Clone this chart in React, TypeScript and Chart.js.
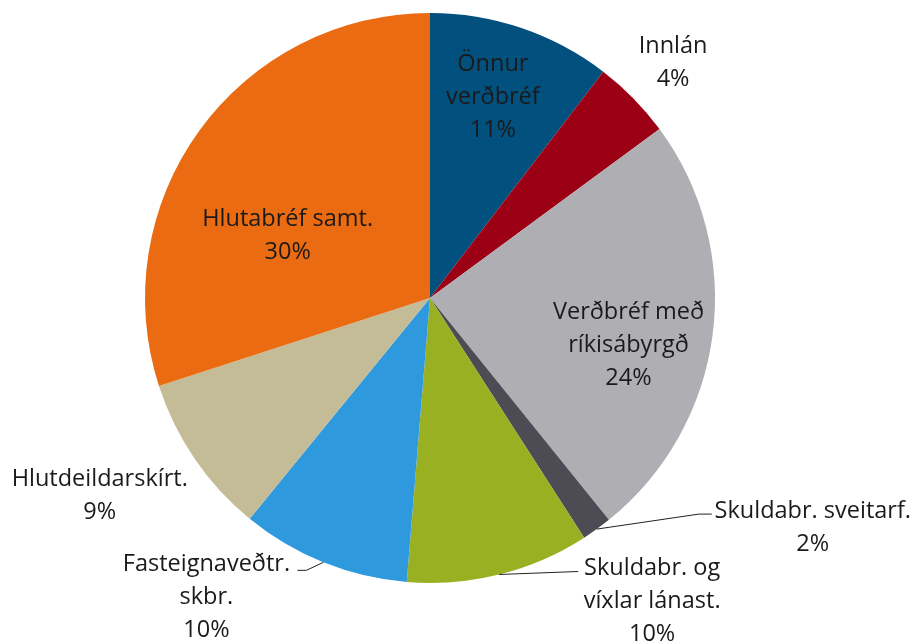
import React, { useEffect, useRef } from "react";
import { Chart, registerables } from "chart.js";

Chart.register(...registerables);

const categories = [
  "Önnur verðbréf",
  "Innlán",
  "Verðbréf með ríkisábyrgð",
  "Skuldabr. sveitarf.",
  "Skuldabr. og víxlar lánast.",
  "Fasteignaveðtr. skbr.",
  "Hlutdeildarskírt.",
  "Hlutabréf samt.",
];
const values = [10.4, 4.5, 24.3, 1.7, 10.4, 9.6, 9.1, 30.0];
const percentLabels = ["11%", "4%", "24%", "2%", "10%", "10%", "9%", "30%"];
const labelLines = [
  ["Önnur", "verðbréf"],
  ["Innlán"],
  ["Verðbréf með", "ríkisábyrgð"],
  ["Skuldabr. sveitarf."],
  ["Skuldabr. og", "víxlar lánast."],
  ["Fasteignaveðtr.", "skbr."],
  ["Hlutdeildarskírt."],
  ["Hlutabréf samt."],
];
const colors = [
  "#02507D",
  "#9C0014",
  "#AFAEB3",
  "#4D4C55",
  "#9AB023",
  "#2E99DC",
  "#C4BC97",
  "#EB6B12",
];

type Placement = { f: number; dx: number; dy: number; leader?: number[][] };
const placements: Placement[] = [
  { f: 0.72, dx: -3, dy: -6 },
  { f: 1.19, dx: 1, dy: 2 },
  { f: 0.72, dx: -5, dy: 21 },
  { f: 1, dx: 216, dy: -1, leader: [[102, -15], [115, -15]] },
  { f: 1, dx: 153, dy: 27, leader: [[79, -3]] },
  { f: 1, dx: -117, dy: 35, leader: [[-17, 8], [-26, 8]] },
  { f: 1.2, dx: -48, dy: 5 },
  { f: 0.6, dx: -4, dy: 38 },
];

const FONT = "23.5px 'Open Sans', sans-serif";
const LINE_H = 33;

const labelPlugin = {
  id: "pieLabels",
  afterDraw(chart: any) {
    const ctx = chart.ctx;
    const meta = chart.getDatasetMeta(0);
    ctx.save();
    ctx.font = FONT;
    ctx.fillStyle = "#1a1a1a";
    ctx.textAlign = "center";
    ctx.textBaseline = "middle";
    meta.data.forEach((arc: any, i: number) => {
      const p = placements[i];
      const mid = (arc.startAngle + arc.endAngle) / 2;
      const r = arc.outerRadius * p.f;
      const ax = arc.x + Math.cos(mid) * r;
      const ay = arc.y + Math.sin(mid) * r;
      if (p.leader) {
        ctx.beginPath();
        ctx.strokeStyle = "#222";
        ctx.lineWidth = 1;
        ctx.moveTo(ax, ay);
        p.leader.forEach((pt) => ctx.lineTo(ax + pt[0], ay + pt[1]));
        ctx.stroke();
      }
      const lines = [...labelLines[i], percentLabels[i]];
      const cx = ax + p.dx;
      const cy = ay + p.dy;
      lines.forEach((t, k) => {
        ctx.fillText(t, cx, cy + (k - (lines.length - 1) / 2) * LINE_H);
      });
    });
    ctx.restore();
  },
};

export default function App() {
  const ref = useRef<HTMLCanvasElement>(null);
  useEffect(() => {
    if (!ref.current) return;
    const chart = new Chart(ref.current, {
      type: "pie",
      data: {
        labels: categories,
        datasets: [
          {
            data: values,
            backgroundColor: colors,
            borderWidth: 0,
          },
        ],
      },
      options: {
        animation: false,
        responsive: false,
        layout: { padding: { left: 145, right: 199, top: 13, bottom: 59 } },
        plugins: {
          legend: { display: false },
          tooltip: { enabled: false },
        },
      },
      plugins: [labelPlugin],
    });
    return () => chart.destroy();
  }, []);
  return (
    <div style={{ position: "absolute", left: 0, top: 0, width: 914, height: 642, background: "#fff" }}>
      <canvas ref={ref} width={914} height={642} />
    </div>
  );
}
